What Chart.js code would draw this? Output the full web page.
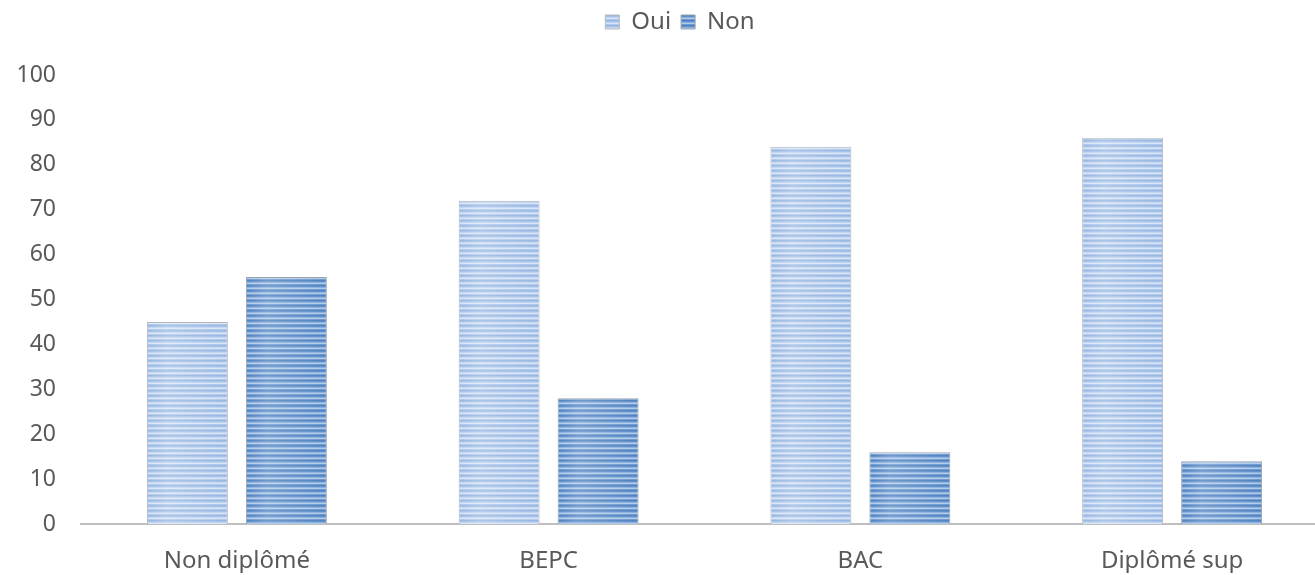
<!DOCTYPE html>
<html>
<head>
<meta charset="utf-8">
<script src="https://cdn.jsdelivr.net/npm/chart.js@4/dist/chart.umd.min.js"></script>
<style>
  html, body { margin: 0; padding: 0; background: #ffffff; overflow: hidden; }
  #wrap { position: relative; width: 1360px; height: 575px; }
</style>
</head>
<body>
<div id="wrap"><canvas id="chart"></canvas></div>
<script>
// Diploma levels and the share (%) answering yes / no
const categories = ['Non diplômé', 'BEPC', 'BAC', 'Diplômé sup'];
const ouiValues = [45, 72, 84, 86];
const nonValues = [55, 28, 16, 14];
const yTicks = [0, 10, 20, 30, 40, 50, 60, 70, 80, 90, 100];

const TEXT = '#595959';

// Horizontal-stripe fill, repeated vertically
function stripes(rows) {
  const c = document.createElement('canvas');
  c.width = 4; c.height = rows.length;
  const g = c.getContext('2d');
  rows.forEach((col, i) => { g.fillStyle = col; g.fillRect(0, i, 4, 1); });
  return g.createPattern(c, 'repeat');
}
const ctx = document.getElementById('chart').getContext('2d');
const ouiFill = stripes(['#97b6e2', '#a6c2e8', '#c0d4f0', '#d8e5f6', '#afc8ea']);
const nonFill = stripes(['#4f82c0', '#5f8fca', '#8bb0dc', '#b0cbea', '#7099cf']);

// Soft sheen across each bar, brighter left of centre
const sheen = {
  id: 'sheen',
  afterDatasetsDraw(chart) {
    const c = chart.ctx;
    chart.data.datasets.forEach((ds, di) => {
      chart.getDatasetMeta(di).data.forEach(bar => {
        const l = bar.x - bar.width / 2, r = bar.x + bar.width / 2;
        const gr = c.createLinearGradient(l, 0, r, 0);
        gr.addColorStop(0, 'rgba(255,255,255,0)');
        gr.addColorStop(0.25, 'rgba(255,255,255,0.2)');
        gr.addColorStop(1, 'rgba(255,255,255,0)');
        c.save();
        c.fillStyle = gr;
        c.fillRect(l + 1, bar.y + 1, bar.width - 2, bar.base - bar.y - 2);
        c.restore();
      });
    });
  }
};

// Extra room below the legend, and the legend nudged right of centre
const legendPlace = {
  id: 'legendPlace',
  beforeInit(chart) {
    const fit = chart.legend.fit;
    chart.legend.fit = function () {
      fit.call(this);
      this.height += 31;
    };
  },
  afterLayout(chart) {
    chart.legend.left += 16;
    chart.legend.right += 16;
  }
};

new Chart(ctx, {
  type: 'bar',
  data: {
    labels: categories,
    datasets: [
      { label: 'Oui', data: ouiValues, backgroundColor: ouiFill, borderColor: '#b4b8be', borderWidth: 1 },
      { label: 'Non', data: nonValues, backgroundColor: nonFill, borderColor: '#9aa3ad', borderWidth: 1 }
    ]
  },
  plugins: [sheen, legendPlace],
  options: {
    responsive: true,
    maintainAspectRatio: false,
    animation: false,
    datasets: { bar: { barPercentage: 0.818, categoryPercentage: 0.635 } },
    layout: { padding: { left: 0, right: 32, top: 0, bottom: 2 } },
    plugins: {
      tooltip: { enabled: false },
      legend: {
        position: 'top',
        labels: {
          font: { family: 'Noto Sans', size: 24 },
          color: TEXT,
          boxWidth: 14, boxHeight: 14,
          padding: 10
        }
      }
    },
    scales: {
      x: {
        grid: { display: false, drawTicks: false },
        border: { color: '#bfbfbf', width: 2 },
        ticks: { font: { family: 'Noto Sans', size: 24 }, color: TEXT, padding: 23 },
        afterFit(scale) { scale.height = 49; }
      },
      y: {
        min: 0, max: 100,
        afterBuildTicks(scale) { scale.ticks = yTicks.map(v => ({ value: v })); },
        grid: { display: false, drawTicks: false },
        border: { display: false },
        ticks: { font: { family: 'Noto Sans', size: 23 }, color: TEXT, padding: 25 },
        afterFit(scale) { scale.width = 81; }
      }
    }
  }
});
</script>
</body>
</html>
